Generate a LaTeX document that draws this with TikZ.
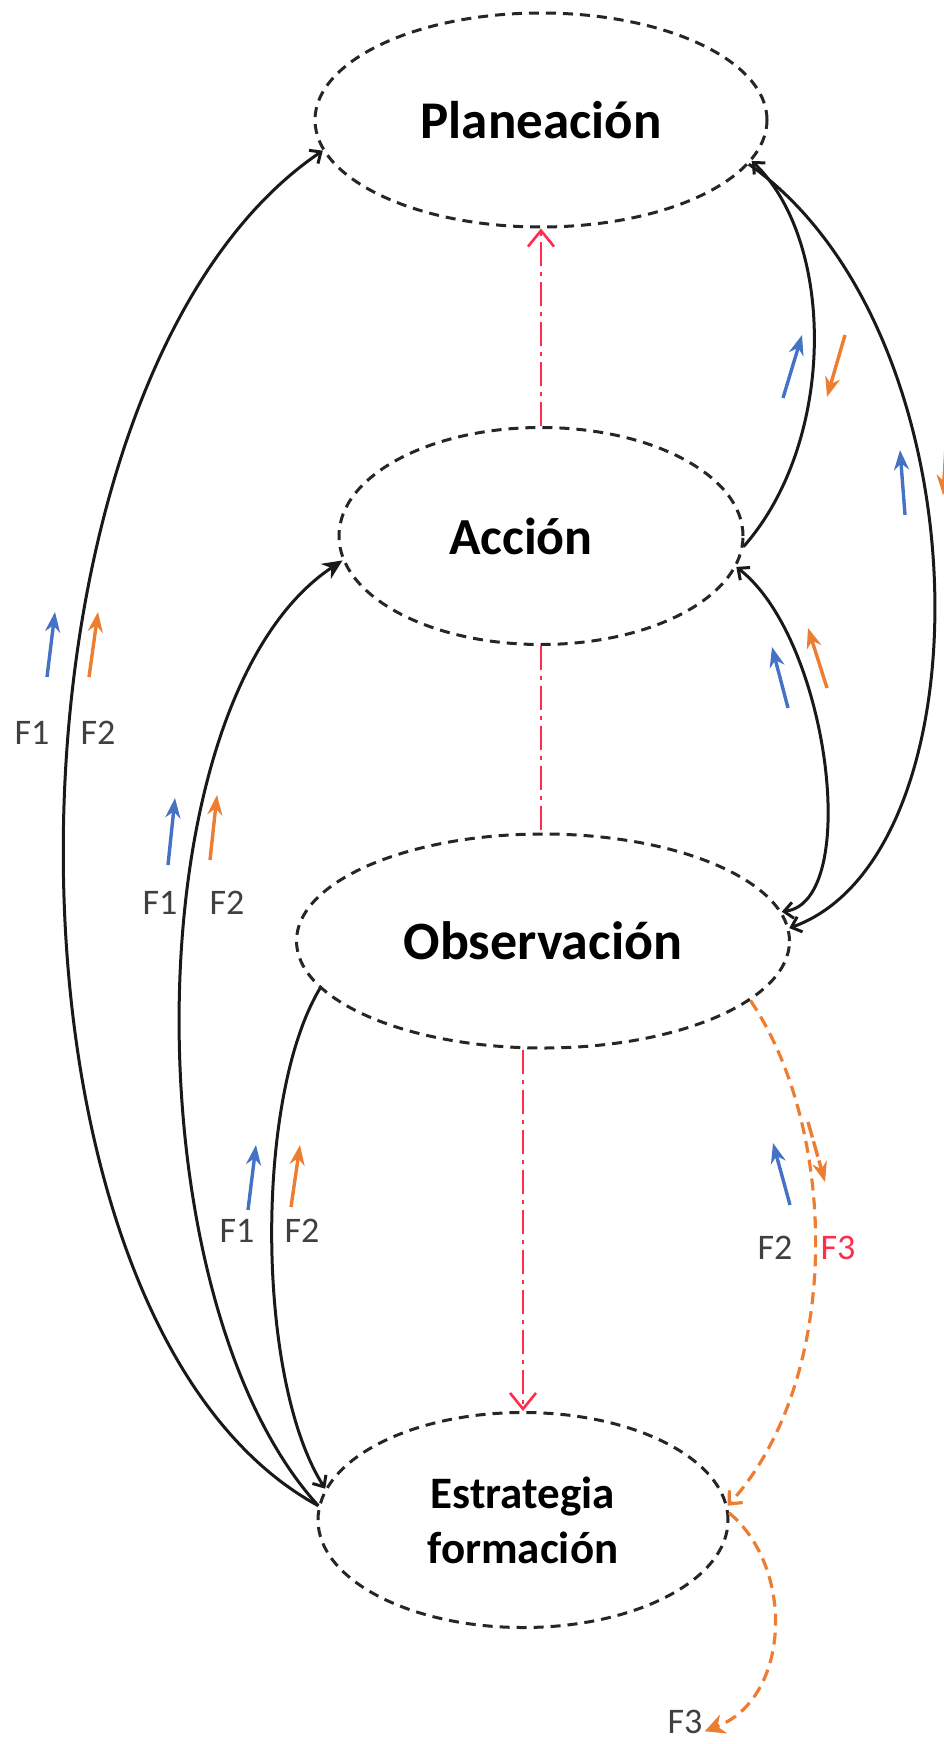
\documentclass[tikz,border=0pt]{standalone}
\usepackage{fontspec}
\setmainfont{Carlito}
\usepackage{tikz}
\usetikzlibrary{arrows.meta,shapes.geometric,calc}
\definecolor{fblue}{HTML}{4472C4}
\definecolor{forange}{HTML}{ED7D31}
\definecolor{fred}{HTML}{FF2D4B}
\definecolor{fgray}{HTML}{404040}

\begin{document}
\begin{tikzpicture}[x=0.5pt,y=-0.5pt,
  el/.style={draw=black!85,ellipse,dash pattern=on 5pt off 3.5pt,line width=1.5pt,inner sep=0pt,align=center},
  ln/.style={line width=1.5pt,black!90},
  op/.style={-{Straight Barb[length=4.5pt,width=8pt]}},
  rd/.style={fred,line width=1.3pt,dash pattern=on 12pt off 3pt on 2pt off 3pt,-{Straight Barb[length=8pt,width=13pt]}},
  od/.style={forange,line width=1.6pt,dash pattern=on 6pt off 3.5pt},
  fb/.style={fblue,line width=1.7pt,-{Stealth[length=10pt,width=7.5pt]}},
  fo/.style={forange,line width=1.7pt,-{Stealth[length=10pt,width=7.5pt]}},
  lb/.style={fgray,inner sep=1pt,font=\fontsize{18}{20}\selectfont}]
\useasboundingbox (0,0) rectangle (943,1744);
% ciclo
\node[el,minimum width=226pt,minimum height=107pt,font=\fontsize{26.5}{30}\selectfont\bfseries] (plan) at (541,120) {Planeación};
\node[el,minimum width=202pt,minimum height=108.5pt,font=\fontsize{26}{30}\selectfont\bfseries] (acc) at (541,536) {Acción\hspace*{20pt}};
\node[el,minimum width=246.5pt,minimum height=107pt,font=\fontsize{27}{30}\selectfont\bfseries] (obs) at (543,941) {Observación};
\node[el,minimum width=205pt,minimum height=107.5pt,font=\fontsize{22.5}{27.5}\selectfont\bfseries] (est) at (523,1520) {Estrategia\\formación};
\node[lb] (f3b) at (685,1722) {F3};
% flujos F1 F2
\draw[ln,op] (est.176) .. controls +(-345,-187) and +(-340,230) .. (plan.188);
\draw[ln,-{Stealth[length=10pt,width=9pt]}] (est.176) .. controls +(-189,-207) and +(-211,140) .. (acc.187);
\draw[ln,op] (obs.192) .. controls +(-66,110) and +(-69,-108) .. (est.171);
\draw[ln,op] (acc.-3) .. controls +(93,-105) and +(84,80) .. (plan.-11);
\draw[ln,{Straight Barb[length=4.5pt,width=8pt]}-{Straight Barb[length=4.5pt,width=8pt]}] (obs.7) .. controls +(80,-10) and +(93,72) .. (acc.-9);
\draw[ln,op] (plan.-12) .. controls +(239,168) and +(201,-72) .. (obs.3);
% flujo F3
\draw[od,-{Straight Barb[length=5pt,width=9pt]}] (obs.-16) .. controls +(88,130) and +(115,-127) .. (est.4);
\draw[od,-{Stealth[length=10pt,width=10pt]}] (est.2) .. controls +(66,55) and +(86,-33) .. (f3b.-25);
% red
\draw[rd] (acc.north) -- (plan.south);
\draw[rd,-] (acc.south) -- (acc.south |- obs.north);
\draw[rd] (est.north |- obs.south) -- (est.north);
% labels
\node[lb] (f1a) at (32,733) {F1}; \node[lb] (f2a) at (98,733) {F2};
\node[lb] (f1b) at (160,903) {F1}; \node[lb] (f2b) at (227,903) {F2};
\node[lb] (f1c) at (237,1231) {F1}; \node[lb] (f2c) at (302,1231) {F2};
\node[lb] (f2d) at (775,1248) {F2}; \node[lb,text=fred] (f3a) at (838,1248) {F3};
% small arrows
\draw[fb] (47,677) -- (55,612); \draw[fo] (89,677) -- (98,612);
\draw[fb] (168,865) -- (175,798); \draw[fo] (210,860) -- (217,795);
\draw[fb] (248,1210) -- (256,1145); \draw[fo] (291,1207) -- (300,1145);
\draw[fb] (783,398) -- (802,335); \draw[fo] (845,335) -- (827,397);
\draw[fb] (905,515) -- (900,450); \draw[fo] (947,430) -- (943,495);
\draw[fb] (788,708) -- (772,647); \draw[fo] (827,688) -- (808,628);
\draw[fb] (790,1205) -- (773,1143); \draw[fo,dash pattern=on 8pt off 2pt] (808,1122) -- (825,1182);
\end{tikzpicture}
\end{document}
